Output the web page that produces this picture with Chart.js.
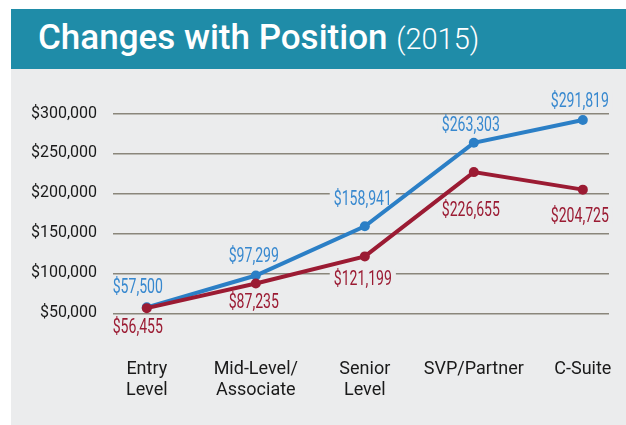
<!DOCTYPE html>
<html>
<head>
<meta charset="utf-8">
<script src="https://cdn.jsdelivr.net/npm/chart.js@4/dist/chart.umd.min.js"></script>
<style>
  html, body { margin: 0; padding: 0; background: #ffffff; }
  body { width: 626px; height: 425px; position: relative; overflow: hidden; }
  #panel { position: absolute; left: 11px; top: 9px; width: 615px; height: 416px; background: #ebeced; }
  #header { position: absolute; left: 11px; top: 9px; width: 615px; height: 60px; background: #1f8ca8; }
  #title { position: absolute; left: 38px; top: 20px; color: #ffffff; font-family: Roboto, sans-serif;
           font-size: 35px; font-weight: 500; line-height: 35px; white-space: nowrap; }
  #title .yr { font-size: 29px; font-weight: 300; }
  canvas { position: absolute; left: 0; top: 0; }
</style>
</head>
<body>
<div id="panel"></div>
<div id="header"></div>
<div id="title">Changes with Position <span class="yr">(2015)</span></div>
<canvas id="c" width="626" height="425"></canvas>
<script>
// ---- data ----
const categories = [["Entry", "Level"], ["Mid-Level/", "Associate"], ["Senior", "Level"], ["SVP/Partner"], ["C-Suite"]];
const seriesNames = ["Series A", "Series B"];
const blueValues = [57500, 97299, 158941, 263303, 291819];
const redValues = [56455, 87235, 121199, 226655, 204725];
const yTickValues = [50000, 100000, 150000, 200000, 250000, 300000];

// ---- style ----
const BLUE = "#2b7fc6";
const BLUE_TEXT = "#3788cf";
const RED = "#9b1b33";
const RED_TEXT = "#9b1b33";
const PANEL = "#ebeced";
// per-point label offsets for fine placement, styling only
const blueLabelDy = [-21, -20, -27, -18, -19];
const redLabelDy = [19, 18, 22, 38, 26];
const labelDx = [-9, -2, -2, -3, -3];

const fmt = v => "$" + v.toLocaleString("en-US");
const LABEL_FONT = "400 21px Roboto";
const LABEL_SX = 0.67;

const labelPlugin = {
  id: "valueLabels",
  _items(chart) {
    const items = [];
    chart.data.datasets.forEach((ds, di) => {
      const meta = chart.getDatasetMeta(di);
      meta.data.forEach((el, i) => {
        items.push({ x: el.x + labelDx[i], y: el.y + ds.labelDy[i], text: fmt(ds.data[i].y), color: ds.labelColor });
      });
    });
    return items;
  },
  beforeDatasetsDraw(chart) {
    const ctx = chart.ctx;
    ctx.save();
    ctx.font = LABEL_FONT;
    ctx.fillStyle = PANEL;
    this._items(chart).forEach(it => {
      const w = ctx.measureText(it.text).width * LABEL_SX;
      ctx.fillRect(it.x - w / 2 - 4, it.y - 9, w + 8, 18);
    });
    ctx.restore();
  },
  afterDatasetsDraw(chart) {
    const ctx = chart.ctx;
    this._items(chart).forEach(it => {
      ctx.save();
      ctx.font = LABEL_FONT;
      ctx.textAlign = "center";
      ctx.textBaseline = "middle";
      ctx.fillStyle = it.color;
      ctx.translate(it.x, it.y);
      ctx.scale(LABEL_SX, 1);
      ctx.fillText(it.text, 0, 1);
      ctx.restore();
    });
  }
};

new Chart(document.getElementById("c"), {
  type: "line",
  data: {
    datasets: [
      {
        label: seriesNames[0],
        data: blueValues.map((v, i) => ({ x: i, y: v })),
        borderColor: BLUE, backgroundColor: BLUE,
        pointBackgroundColor: BLUE, pointBorderWidth: 0,
        borderWidth: 4, pointRadius: 5, tension: 0, order: 1,
        labelDy: blueLabelDy, labelColor: BLUE_TEXT, clip: false
      },
      {
        label: seriesNames[1],
        data: redValues.map((v, i) => ({ x: i, y: v })),
        borderColor: RED, backgroundColor: RED,
        pointBackgroundColor: RED, pointBorderWidth: 0,
        borderWidth: 4, pointRadius: 5, tension: 0, order: 0,
        labelDy: redLabelDy, labelColor: RED_TEXT, clip: false
      }
    ]
  },
  options: {
    responsive: false,
    animation: false,
    devicePixelRatio: 1,
    events: [],
    layout: { padding: { top: 113.5, right: 17, left: 0, bottom: 0 } },
    plugins: { legend: { display: false }, tooltip: { enabled: false }, title: { display: false } },
    scales: {
      x: {
        type: "linear",
        min: -0.31,
        max: 4.24,
        grid: { display: false },
        border: { display: false },
        afterBuildTicks: s => { s.ticks = categories.map((c, i) => ({ value: i })); },
        afterFit: s => { s.height = 111.7; s.paddingLeft = 0; s.paddingRight = 0; },
        ticks: {
          autoSkip: false,
          maxRotation: 0,
          padding: 38,
          color: "#1a1a1a",
          font: { family: "Roboto", size: 18, lineHeight: 1.17 },
          callback: v => categories[v]
        }
      },
      y: {
        min: 50000,
        max: 300000,
        afterBuildTicks: s => { s.ticks = yTickValues.map(v => ({ value: v })); },
        afterFit: s => { s.width = 113; s.paddingTop = 0; s.paddingBottom = 0; },
        grid: { color: "#8a867b", lineWidth: 1.5, drawTicks: false },
        border: { display: false },
        ticks: {
          padding: 16,
          color: "#1a1a1a",
          font: { family: "Roboto", size: 16 },
          callback: v => fmt(v)
        }
      }
    }
  },
  plugins: [labelPlugin]
});
</script>
</body>
</html>
